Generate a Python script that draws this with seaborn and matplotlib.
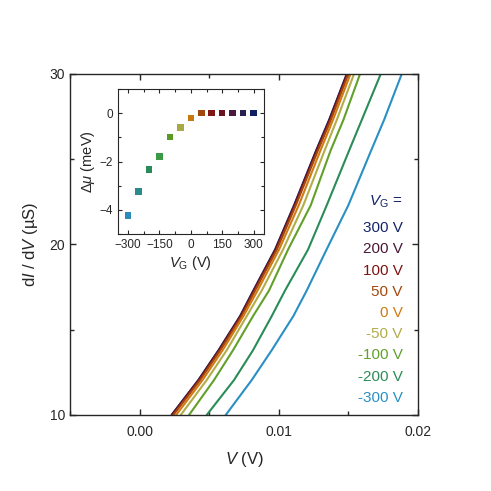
import numpy as np
import pandas as pd
import matplotlib
matplotlib.use("Agg")
import matplotlib.pyplot as plt
from matplotlib.ticker import MultipleLocator
import seaborn as sns

# ---------------------------
# DATA
# ---------------------------
gate_labels = ["300 V", "200 V", "100 V", "50 V", "0 V", "-50 V", "-100 V", "-200 V", "-300 V"]
gate_colors = ["#14246a", "#4a1838", "#7c1414", "#a6470f", "#d07a12",
               "#b2ad48", "#62a02a", "#2a8c58", "#2a90c4"]

# conductance levels (uS) shared by all traces
g_levels = [10, 12.05, 13.8, 15.8, 17.3, 19.7, 22.3, 25.5, 27.3, 30]

# bias V (V) at each conductance level, one list per gate voltage
v_300 = [0.002292, 0.004217, 0.005668, 0.007213, 0.008168, 0.009727, 0.011092, 0.012672, 0.013606, 0.014878]
v_200 = [0.002321, 0.004246, 0.005697, 0.007242, 0.008197, 0.009756, 0.011121, 0.012701, 0.013635, 0.014900]
v_100 = [0.002357, 0.004282, 0.005733, 0.007278, 0.008233, 0.009792, 0.011157, 0.012737, 0.013671, 0.014935]
v_50 = [0.002421, 0.004346, 0.005797, 0.007342, 0.008297, 0.009856, 0.011221, 0.012801, 0.013735, 0.014993]
v_0 = [0.002622, 0.004519, 0.005963, 0.007457, 0.008470, 0.010014, 0.011430, 0.012981, 0.013887, 0.015144]
v_m50 = [0.002953, 0.004820, 0.006257, 0.007694, 0.008772, 0.010302, 0.011760, 0.013283, 0.014159, 0.015402]
v_m100 = [0.003549, 0.005345, 0.006710, 0.008147, 0.009296, 0.010661, 0.012292, 0.013714, 0.014634, 0.015833]
v_m200 = [0.004820, 0.006782, 0.008147, 0.009490, 0.010445, 0.012098, 0.013441, 0.015043, 0.015955, 0.017320]
v_m300 = [0.006185, 0.008053, 0.009490, 0.011042, 0.012004, 0.013427, 0.014993, 0.016624, 0.017557, 0.018829]
traces = [v_300, v_200, v_100, v_50, v_0, v_m50, v_m100, v_m200, v_m300]

# inset: chemical potential shift vs gate voltage
inset_vg = [-300, -250, -200, -150, -100, -50, 0, 50, 100, 150, 200, 250, 300]
inset_dmu = [-4.23, -3.25, -2.33, -1.79, -0.99, -0.60, -0.20, 0, 0, 0, 0, 0, 0]
inset_colors = ["#2a8cba", "#2a8a8c", "#2a8a5a", "#3c9a44", "#5a9a22", "#a8a844",
                "#c8780e", "#a0480e", "#801616", "#681222", "#4a1a40", "#2a2050", "#102060"]

# ---------------------------
# STYLE
# ---------------------------
sns.set_style("ticks")
plt.rcParams["font.family"] = ["Liberation Sans", "DejaVu Sans"]
plt.rcParams["mathtext.fontset"] = "custom"
plt.rcParams["mathtext.rm"] = "Liberation Sans"
plt.rcParams["mathtext.it"] = "Liberation Sans:italic"
plt.rcParams["xtick.direction"] = "in"
plt.rcParams["ytick.direction"] = "in"

fig = plt.figure(figsize=(4.91, 4.91), dpi=100)

# ---------------------------
# MAIN PANEL
# ---------------------------
ax = fig.add_axes([0.1426, 0.1548, 0.7088, 0.6945])

rows = []
for lab, vs in zip(gate_labels, traces):
    for v, g in zip(vs, g_levels):
        rows.append({"V": v, "G": g, "gate": lab})
df = pd.DataFrame(rows)

palette = dict(zip(gate_labels, gate_colors))
sns.lineplot(data=df, x="V", y="G", hue="gate", hue_order=gate_labels,
             palette=palette, linewidth=1.5, legend=False, sort=False, ax=ax)

ax.set_xlim(-0.005, 0.02)
ax.set_ylim(10, 30)
ax.xaxis.set_minor_locator(MultipleLocator(0.005))
ax.yaxis.set_major_locator(MultipleLocator(10))
ax.yaxis.set_minor_locator(MultipleLocator(5))
ax.set_xticks([0.0, 0.01, 0.02])
ax.set_xticklabels(["0.00", "0.01", "0.02"])
ax.tick_params(which="both", top=True, right=True, labelsize=10, length=4, width=1)
ax.tick_params(axis="x", pad=7)
ax.tick_params(which="minor", length=3)
for sp in ax.spines.values():
    sp.set_linewidth(1)
ax.set_xlabel(r"$V$ (V)", fontsize=12, labelpad=8)
ax.set_ylabel(r"d$I$ / d$V$ (µS)", fontsize=12, labelpad=7)

# gate voltage labels
ax.text(0.956, 0.6255, r"$V_\mathrm{G}$ =", color=gate_colors[0], fontsize=11,
        ha="right", va="center", transform=ax.transAxes)
for i, (lab, col) in enumerate(zip(gate_labels, gate_colors)):
    ax.text(0.956, 0.548 - i * 0.0622, lab, color=col, fontsize=11,
            ha="right", va="center", transform=ax.transAxes)

# ---------------------------
# INSET
# ---------------------------
ins = fig.add_axes([0.2397, 0.5234, 0.298, 0.2953])
inset_df = pd.DataFrame({"vg": inset_vg, "dmu": inset_dmu})
sns.scatterplot(data=inset_df, x="vg", y="dmu", hue="vg", palette=inset_colors,
                marker="s", s=22, edgecolor="none", legend=False, ax=ins)
ins.set_xlim(-350, 350)
ins.set_ylim(-5, 1)
ins.xaxis.set_major_locator(MultipleLocator(150))
ins.xaxis.set_minor_locator(MultipleLocator(75))
ins.yaxis.set_major_locator(MultipleLocator(2))
ins.yaxis.set_minor_locator(MultipleLocator(1))
ins.tick_params(which="both", top=True, right=True, labelsize=8.5, length=3, width=0.8)
ins.tick_params(which="minor", length=2)
for sp in ins.spines.values():
    sp.set_linewidth(0.8)
ins.set_xlabel(r"$V_\mathrm{G}$ (V)", fontsize=10.5, labelpad=2)
ins.set_ylabel(r"$\Delta\mu$ (meV)", fontsize=10.5, labelpad=2)

fig.savefig("out.png", dpi=100)
